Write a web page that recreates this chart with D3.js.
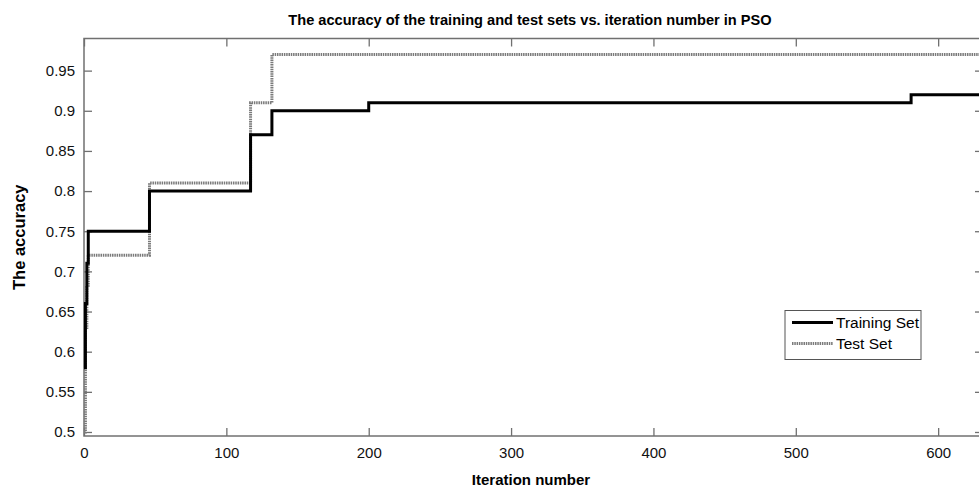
<!DOCTYPE html>
<html>
<head>
<meta charset="utf-8">
<script src="https://cdn.jsdelivr.net/npm/d3@7"></script>
<style>
  body { margin: 0; background: #fff; }
  text { font-family: "Liberation Sans", Arial, sans-serif; }
</style>
</head>
<body>
<script>
'use strict';

// iteration where each step starts, and the accuracy from there on
var trainIter = [0, 1, 2, 3, 46, 117, 132, 200, 581, 631];
var trainAcc = [0.58, 0.66, 0.71, 0.75, 0.80, 0.87, 0.90, 0.91, 0.92, 0.92];

var testIter = [0, 1, 2, 3, 46, 117, 132, 631];
var testAcc = [0.50, 0.63, 0.68, 0.72, 0.81, 0.91, 0.97, 0.97];

var xTicks = [0, 100, 200, 300, 400, 500, 600];
var yTicks = [0.5, 0.55, 0.6, 0.65, 0.7, 0.75, 0.8, 0.85, 0.9, 0.95];

var seriesNames = ['Training Set', 'Test Set'];

build();

function build() {

  var width = 979,
    height = 489,
    left = 84,
    right = 983,
    top = 38.5,
    bottom = 436,
    axisColor = '#707070',
    tickLen = 8;

  var svg = d3.select('body').append('svg')
    .attr('width', width)
    .attr('height', height);

  var x = d3.scaleLinear().domain([0, 631.5]).range([left, right]);
  var y = d3.scaleLinear().domain([0.495, 0.99]).range([bottom, top]);

  // frame
  svg.append('rect')
    .attr('x', left).attr('y', top)
    .attr('width', right - left).attr('height', bottom - top)
    .attr('fill', 'none')
    .attr('stroke', axisColor)
    .attr('stroke-width', 1.5);

  // axes, ticks pointing inward
  var xBottom = svg.append('g').attr('transform', 'translate(0,' + bottom + ')')
    .call(d3.axisBottom(x).tickValues(xTicks).tickSizeInner(-tickLen).tickSizeOuter(0).tickPadding(11));
  var xTop = svg.append('g').attr('transform', 'translate(0,' + top + ')')
    .call(d3.axisTop(x).tickValues(xTicks).tickSizeInner(-tickLen).tickSizeOuter(0).tickFormat(''));
  var yLeft = svg.append('g').attr('transform', 'translate(' + left + ',0)')
    .call(d3.axisLeft(y).tickValues(yTicks).tickSizeInner(-tickLen).tickSizeOuter(0).tickPadding(9)
      .tickFormat(d3.format('~g')));
  var yRight = svg.append('g').attr('transform', 'translate(' + right + ',0)')
    .call(d3.axisRight(y).tickValues(yTicks).tickSizeInner(-tickLen).tickSizeOuter(0).tickFormat(''));

  [xBottom, xTop, yLeft, yRight].forEach(function(g) {
    g.select('.domain').remove();
    g.selectAll('.tick line').attr('stroke', axisColor).attr('stroke-width', 1.3);
    g.selectAll('.tick text')
      .attr('fill', '#111')
      .style('font-size', '15px')
      .style('font-family', '"Liberation Sans", Arial, sans-serif');
  });

  var line = d3.line()
    .x(function(d) { return x(d[0]); })
    .y(function(d) { return y(d[1]); })
    .curve(d3.curveStepAfter);

  var testData = d3.zip(testIter, testAcc);
  var trainData = d3.zip(trainIter, trainAcc);

  var plot = svg.append('g');

  plot.append('path')
    .datum(testData)
    .attr('d', line)
    .attr('fill', 'none')
    .attr('stroke', '#7a7a7a')
    .attr('stroke-width', 3)
    .attr('stroke-dasharray', '1.5,0.8');

  plot.append('path')
    .datum(trainData)
    .attr('d', line)
    .attr('fill', 'none')
    .attr('stroke', '#000')
    .attr('stroke-width', 3);

  // title and axis labels
  svg.append('text')
    .attr('x', 530)
    .attr('y', 25)
    .attr('text-anchor', 'middle')
    .style('font-size', '14.6px')
    .style('font-weight', 'bold')
    .text('The accuracy of the training and test sets vs. iteration number in PSO');

  svg.append('text')
    .attr('x', 531)
    .attr('y', 485)
    .attr('text-anchor', 'middle')
    .style('font-size', '15px')
    .style('font-weight', 'bold')
    .text('Iteration number');

  svg.append('text')
    .attr('transform', 'translate(25,' + ((top + bottom) / 2) + ') rotate(-90)')
    .attr('text-anchor', 'middle')
    .style('font-size', '16.5px')
    .style('font-weight', 'bold')
    .text('The accuracy');

  // legend
  var legend = svg.append('g').attr('transform', 'translate(785,310.5)');
  legend.append('rect')
    .attr('width', 136).attr('height', 49)
    .attr('fill', '#fff')
    .attr('stroke', '#555')
    .attr('stroke-width', 1);

  var styles = [
    { stroke: '#000', dash: null },
    { stroke: '#7a7a7a', dash: '1.5,0.8' }
  ];

  seriesNames.forEach(function(name, i) {
    var row = legend.append('g').attr('transform', 'translate(0,' + (12 + i * 21) + ')');
    row.append('line')
      .attr('x1', 7).attr('x2', 48)
      .attr('stroke', styles[i].stroke)
      .attr('stroke-width', 3)
      .attr('stroke-dasharray', styles[i].dash);
    row.append('text')
      .attr('x', 51).attr('y', 5.5)
      .style('font-size', '15.5px')
      .text(name);
  });
}
</script>
</body>
</html>
